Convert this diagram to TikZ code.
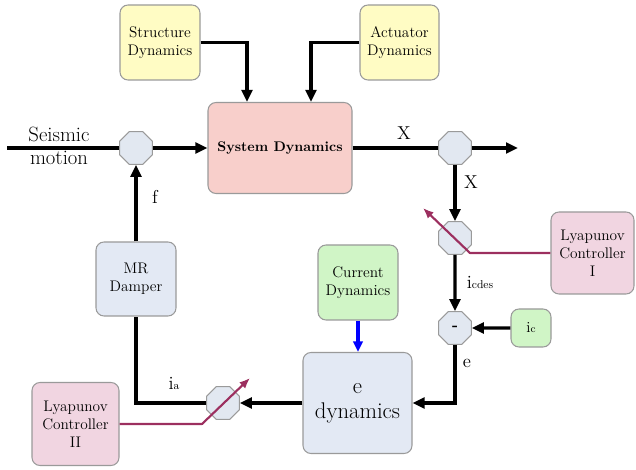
\documentclass[tikz,border=0pt]{standalone}
\usetikzlibrary{shapes.geometric,arrows.meta,calc}
\definecolor{yfill}{HTML}{FFFCC4}
\definecolor{sysfill}{HTML}{F8CFCB}
\definecolor{bfill}{HTML}{E3E9F4}
\definecolor{gfill}{HTML}{D0F5C6}
\definecolor{lyfill}{HTML}{F1D5E1}
\definecolor{octfill}{HTML}{E2E8F1}
\definecolor{bgray}{HTML}{9A9A9A}
\definecolor{magline}{HTML}{9C2F5F}
\begin{document}
\begin{tikzpicture}[x=0.75pt,y=-0.75pt,
  box/.style={draw=bgray, line width=0.8pt, rounded corners=6pt, align=center, inner sep=2pt,
    font=\fontsize{11.5}{13.5}\selectfont},
  oct/.style={regular polygon, regular polygon sides=8,
    minimum size=26.5pt, inner sep=0pt, draw=bgray, fill=octfill, line width=0.8pt},
  wire/.style={line width=2.4pt},
  arr/.style={line width=2.4pt, -{Triangle[length=9pt,width=8pt]}},
  mag/.style={line width=1.6pt, draw=magline, line join=round, -{Latex[length=8pt,width=6.5pt]}},
  lbl/.style={font=\fontsize{14}{16}\selectfont, inner sep=0pt}
]
\useasboundingbox (0,0) rectangle (636,470);

% boxes
\node[box, fill=yfill, minimum width=60pt, minimum height=56.25pt] (sd) at (160,42.5) {Structure\\Dynamics};
\node[box, fill=yfill, minimum width=59.25pt, minimum height=56.25pt] (ad) at (399.5,42.5) {Actuator\\Dynamics};
\node[box, fill=sysfill, minimum width=108pt, minimum height=68.25pt, font=\bfseries\fontsize{10.5}{13}\selectfont] (sys) at (280,148) {System Dynamics};
\node[box, fill=lyfill, minimum width=62.25pt, minimum height=61.5pt] (ly1) at (592.5,253) {Lyapunov\\Controller\\I};
\node[box, fill=gfill, minimum width=30pt, minimum height=28.5pt] (ic) at (531,328) {i{\fontsize{8}{9}\selectfont c}};
\node[box, fill=gfill, minimum width=60pt, minimum height=56.25pt] (cd) at (358,282.5) {Current\\Dynamics};
\node[box, fill=bfill, minimum width=81.75pt, minimum height=75.75pt, font=\fontsize{17}{19}\selectfont] (ed) at (357.5,403) {e\\dynamics};
\node[box, fill=bfill, minimum width=60pt, minimum height=55.5pt] (mr) at (136,279) {MR\\Damper};
\node[box, fill=lyfill, minimum width=65.25pt, minimum height=62.25pt] (ly2) at (75.5,424) {Lyapunov\\Controller\\II};

% octagons
\node[oct] (o1) at (136,148) {};
\node[oct] (o2) at (455,148) {};
\node[oct] (o3) at (455,238) {};
\node[oct, font=\bfseries\fontsize{12}{12}\selectfont] (o4) at (455,328) {-};
\node[oct] (o5) at (223,403) {};

% coordinates
\coordinate (sin) at (7,148);
\coordinate (xout) at (518,148);
\coordinate (m1a) at (470,253);
\coordinate (m1b) at (423,208);
\coordinate (m2a) at (202,424);
\coordinate (m2b) at (250,378);

% connectors
\draw[wire] (sin) -- (o1.west);
\draw[arr] (o1.east) -- (sys.west);
\draw[arr] (sd.east) -| ([xshift=-24.75pt]sys.north);
\draw[arr] (ad.west) -| ([xshift=23.25pt]sys.north);
\draw[wire] (sys.east) -- (o2.west);
\draw[arr] (o2.east) -- (xout);
\draw[arr] (o2.south) -- (o3.north);
\draw[arr] (o3.south) -- (o4.north);
\draw[arr] (ic.west) -- (o4.east);
\draw[arr] (o4.south) |- (ed.east);
\draw[line width=2.4pt, blue, -{Triangle[length=8pt,width=7pt]}] (cd.south) -- (cd.south |- ed.north);
\draw[arr] (ed.west) -- (o5.east);
\draw[wire, line join=miter] (o5.west) -| (mr.south);
\draw[arr] (mr.north) -- (o1.south);

\draw[mag] (ly1.west) -- (m1a) -- (m1b);
\draw[mag] (ly2.east) -- (m2a) -- (m2b);

% labels
\node[font=\fontsize{15.5}{17}\selectfont, align=center, inner sep=0pt] (seis) at (59,146) {Seismic\\motion};
\node[lbl] (lx1) at (404,133) {X};
\node[lbl] (lx2) at (471,182) {X};
\node[lbl] (lf) at (155,197) {f};
\node[lbl] (licd) at (480,282) {i{\fontsize{8.5}{9}\selectfont cdes}};
\node[lbl] (le) at (467,363) {e};
\node[lbl] (lia) at (174,383) {i{\fontsize{8.5}{9}\selectfont a}};
\end{tikzpicture}
\end{document}
